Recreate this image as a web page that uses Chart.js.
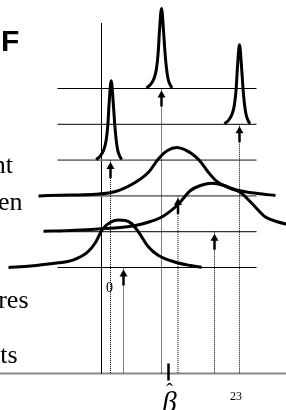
<!DOCTYPE html>
<html><head><meta charset="utf-8">
<script src="https://cdn.jsdelivr.net/npm/chart.js@4"></script>
<style>html,body{margin:0;padding:0;background:#fff;overflow:hidden}canvas{display:block}</style>
</head><body>
<canvas id="c" width="286" height="410"></canvas>
<script>
// ---- data (rows counted from the bottom, 0..5) ----
const rows = [0, 1, 2, 3, 4, 5];
const estimates = [2.2, 11.3, 7.65, 0.9, 13.8, 6.0];   // arrow position on each row
const betaHat = 6.7;
const axisBottom = -2.96;   // the β axis line
const axisTop = 6.83;
const baselineFrom = -4.4, baselineTo = 15.5;

const row0X = [-9.3,-7.1,-5.1,-2.8,-1.4,-0.6,0.1,0.9,1.7,2.4,3.0,3.7,4.7,5.7,7.4,8.9,10.0];
const row0D = [0,0.042,0.103,0.215,0.427,0.698,1.075,1.265,1.327,1.313,1.229,0.992,0.573,0.335,0.148,0.056,0.008];
const row1X = [-5.8,-3.1,-0.1,1.9,3.4,4.9,6.2,7.7,8.9,9.9,11.1,12.1,13.1,13.9,15.1,16.4,17.5,18.9];
const row1D = [0.014,0.034,0.081,0.117,0.173,0.285,0.439,0.774,1.151,1.291,1.355,1.304,1.193,1.095,0.774,0.411,0.285,0.187];
const row2X = [-6.3,-3.1,-0.6,1.4,3.4,4.7,5.7,6.6,7.55,8.4,9.0,9.8,10.7,11.6,12.7,13.7,15.6,17.4];
const row2D = [0,0.025,0.045,0.123,0.383,0.662,1.036,1.268,1.352,1.282,1.184,0.989,0.654,0.388,0.235,0.151,0.067,0.011];
const row3X = [-0.53,-0.13,0.22,0.47,0.64,0.77,0.97,1.17,1.32,1.47,1.62,1.82,2.02];
const row3D = [0.014,0.112,0.279,0.559,1.006,1.62,2.22,1.62,1.006,0.559,0.279,0.112,0.014];
const row4X = [12.3,12.7,13.05,13.3,13.47,13.6,13.8,14.0,14.15,14.3,14.45,14.65,14.85];
const row4D = [0.014,0.112,0.279,0.559,1.006,1.62,2.22,1.62,1.006,0.559,0.279,0.112,0.014];
const row5X = [4.5,4.9,5.25,5.5,5.67,5.8,6.0,6.2,6.35,6.5,6.65,6.85,7.05];
const row5D = [0.014,0.112,0.279,0.559,1.006,1.62,2.235,1.62,1.006,0.559,0.279,0.112,0.014];

const curveXs = [row0X,row1X,row2X,row3X,row4X,row5X];
const curveDs = [row0D,row1D,row2D,row3D,row4D,row5D];
const baselineColors = ['#000','#000','#7a7a7a','#7a7a7a','#000','#000'];
const baselineWidths = [1,1,1.6,1.6,1,1];

const datasets = [];
rows.forEach((r,i)=>{
  datasets.push({data: curveXs[i].map((x,k)=>({x, y: r + curveDs[i][k]})),
    borderColor:'#000', borderWidth:3, cubicInterpolationMode:'monotone', order:0});
});
rows.forEach((r,i)=>{
  datasets.push({data:[{x:estimates[i],y:r},{x:estimates[i],y:axisBottom}],
    borderColor:'#000', borderWidth:1, borderDash:[1,1], order:2});
});
rows.forEach((r,i)=>{
  datasets.push({data:[{x:baselineFrom,y:r},{x:baselineTo,y:r}],
    borderColor:baselineColors[i], borderWidth:baselineWidths[i], order:3});
});
datasets.push({data:[{x:0,y:axisBottom},{x:0,y:axisTop}], borderColor:'#000', borderWidth:1, order:3});
datasets.push({data:[{x:-10.15,y:axisBottom},{x:18.45,y:axisBottom}], borderColor:'#888', borderWidth:2, order:4});
datasets.forEach(d=>{d.showLine=true; d.pointRadius=0; d.fill=false;});

const overlay = {
  id:'overlay',
  afterDatasetsDraw(chart){
    const {ctx, scales:{x,y}} = chart;
    ctx.save();
    ctx.fillStyle='#000'; ctx.strokeStyle='#000';
    rows.forEach((r,i)=>{
      const px = x.getPixelForValue(estimates[i]);
      const py = y.getPixelForValue(r);
      const tip = py + 2, head = 7, hw = 4;
      ctx.beginPath(); ctx.moveTo(px,tip); ctx.lineTo(px-hw,tip+head); ctx.lineTo(px+hw,tip+head); ctx.closePath(); ctx.fill();
      ctx.lineWidth = 2.5; ctx.beginPath(); ctx.moveTo(px,tip+head-1); ctx.lineTo(px,tip+16); ctx.stroke();
    });
    // beta-hat tick
    const bx = x.getPixelForValue(betaHat), by = y.getPixelForValue(axisBottom);
    ctx.lineWidth = 2.5; ctx.beginPath(); ctx.moveTo(bx,by-10); ctx.lineTo(bx,by+7); ctx.stroke();
    // texts
    ctx.textBaseline='alphabetic';
    ctx.textAlign='left';
    ctx.font='bold 30px "Liberation Sans", Arial, sans-serif';
    ctx.fillText('F', 1, 50.5);
    ctx.textAlign='right';
    ctx.font='26px "Liberation Serif", "Times New Roman", serif';
    ctx.fillText('nt', 13, 172.5);
    ctx.fillText('en', 22.5, 210);
    ctx.fillText('res', 28.5, 308);
    ctx.fillText('ets', 17.5, 363);
    ctx.textAlign='center';
    ctx.font='14px "Liberation Serif", serif';
    ctx.fillText('0', x.getPixelForValue(0)+8, 292);
    ctx.font='12px "Liberation Serif", serif';
    ctx.fillText('23', 236, 400);
    ctx.font='italic 29px "Liberation Serif", serif';
    ctx.fillText('β', bx+1, 412);
    ctx.font='20px "Liberation Serif", serif';
    ctx.fillText('ˆ', bx+1, 398);
    ctx.restore();
  }
};

new Chart(document.getElementById('c'), {
  type:'scatter',
  data:{datasets},
  options:{
    responsive:false, maintainAspectRatio:false, animation:false, devicePixelRatio:1,
    layout:{padding:0},
    plugins:{legend:{display:false}, tooltip:{enabled:false}},
    elements:{line:{tension:0}},
    scales:{
      x:{type:'linear', min:-10.15, max:18.45, display:false},
      y:{type:'linear', min:-3.98, max:7.472, display:false}
    }
  },
  plugins:[overlay]
});
</script>
</body></html>
